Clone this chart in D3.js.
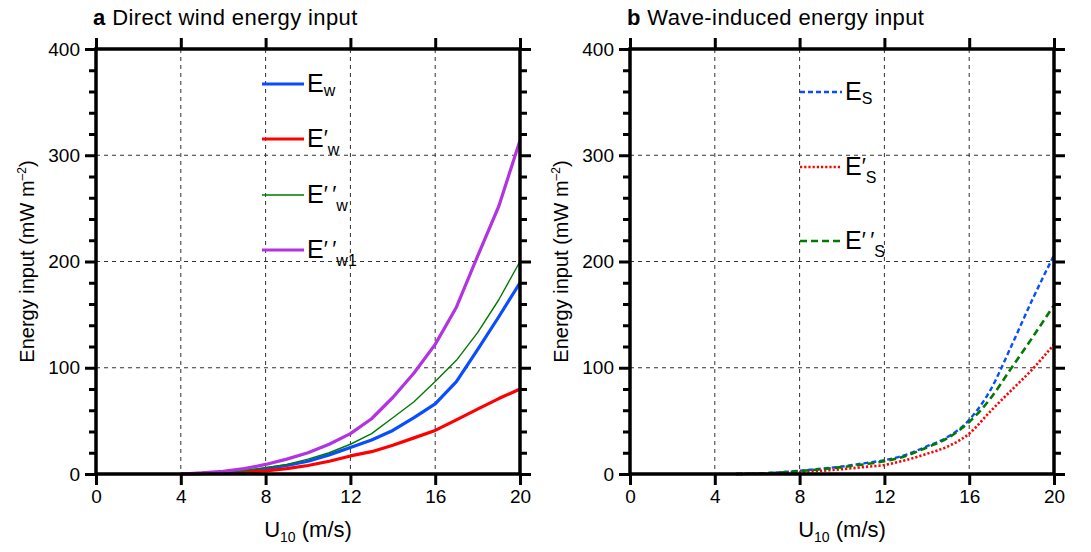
<!DOCTYPE html>
<html><head><meta charset="utf-8">
<script src="https://cdn.jsdelivr.net/npm/d3@7"></script>
<style>body{margin:0;background:#fff}svg{display:block}text{font-family:"Liberation Sans",Arial,sans-serif;fill:#000}</style>
</head><body><svg id="c" width="1091" height="552"></svg>
<script>
// ---- data ----
const windSpeeds = [4,5,6,7,8,9,10,11,12,13,14,15,16,17,18,19,20];
const Ew      = [0,0.5,1,2.5,5,8,12,18,25,32,41,53,66,87,117,148,180];
const EwP     = [0,0.3,1,2,3,5,8,12,17,21,27,34,41,51,61,71,80];
const EwPP    = [0,0.5,1.5,3,6,9,14,20,28,38,53,68,87,107,133,164,200];
const EwPP1   = [0,1,2.5,5,9,14,20,28,38,52,72,95,122,157,205,252,314];
const waveSpeeds = [5,6,7,8,9,10,11,12,13,14,15,16,17,18,19,20];
const Es      = [0,0.5,1.5,3,5,7,10,13,18,26,35,51,79,121,165,206];
const EsP     = [0,0.3,0.8,1.8,3,4.5,6.5,8.5,13,19,26,38,59,79,99,122];
const EsPP    = [0,0.5,1.3,2.8,4.5,6.5,9,12,17,25,34,49,71,100,129,159];
const xTicks = [0,4,8,12,16,20];
const yTicks = [0,100,200,300,400];
const yMinor = d3.range(0,401,20);

const svg = d3.select("#c");
const panels = [
  {x0:96, title:"Direct wind energy input", letter:"a", x:windSpeeds, curve:d3.curveLinear,
   series:[
    {v:Ew,   c:"#0a4cff", w:3.2, dash:null, sub:"w", pr:""},
    {v:EwP,  c:"#ff0000", w:3.2, dash:null, sub:"w", pr:"\u2032"},
    {v:EwPP, c:"#007a00", w:1.4, dash:null, sub:"w", pr:"\u2032\u2009\u2032"},
    {v:EwPP1,c:"#b233e0", w:3.2, dash:null, sub:"w1", pr:"\u2032\u2009\u2032"}],
   legX:262, legY:[84,139,195,250]},
  {x0:630, title:"Wave-induced energy input", letter:"b", x:waveSpeeds, curve:d3.curveMonotoneX,
   series:[
    {v:Es,   c:"#0a4cff", w:2.4, dash:"5,3", sub:"S", pr:""},
    {v:EsP,  c:"#ff0000", w:2.6, dash:"2.2,2", sub:"S", pr:"\u2032"},
    {v:EsPP, c:"#007a00", w:2.6, dash:"7,4", sub:"S", pr:"\u2032\u2009\u2032"}],
   legX:800, legY:[92,167,241]}
];
const W = 424, yTop = 49, yBot = 474;
const FF = "Liberation Sans, Arial, sans-serif";

panels.forEach(p=>{
  const x = d3.scaleLinear().domain([0,20]).range([p.x0,p.x0+W]);
  const y = d3.scaleLinear().domain([0,400]).range([yBot,yTop]);
  const g = svg.append("g");
  // grid
  xTicks.slice(1,-1).forEach(t=>g.append("line").attr("x1",x(t)).attr("x2",x(t)).attr("y1",yTop).attr("y2",yBot)
     .attr("stroke","#333").attr("stroke-width",1).attr("stroke-dasharray","4,4"));
  yTicks.slice(1,-1).forEach(t=>g.append("line").attr("x1",p.x0).attr("x2",p.x0+W).attr("y1",y(t)).attr("y2",y(t))
     .attr("stroke","#333").attr("stroke-width",1).attr("stroke-dasharray","4,4"));
  // series
  const line = d3.line().x((d,i)=>x(p.x[i])).y(d=>y(d)).curve(p.curve);
  p.series.forEach(s=>{
    g.append("path").datum(s.v).attr("d",line).attr("fill","none").attr("stroke",s.c)
      .attr("stroke-width",s.w).attr("stroke-dasharray",s.dash).attr("stroke-linejoin","round");
  });
  // axes
  const ax = (sel,axis)=>sel.call(axis).call(a=>{a.select(".domain").remove();a.selectAll("line").attr("stroke","#000").attr("stroke-width",3);});
  g.append("g").attr("transform",`translate(0,${yBot})`).call(sel=>ax(sel,d3.axisBottom(x).tickValues(xTicks).tickSize(11).tickPadding(5)))
    .selectAll("text").attr("font-size",19).attr("font-family",FF);
  g.append("g").attr("transform",`translate(0,${yTop})`).call(sel=>ax(sel,d3.axisTop(x).tickValues(xTicks).tickSize(11).tickFormat("")));
  g.append("g").attr("transform",`translate(${p.x0},0)`).call(sel=>ax(sel,d3.axisLeft(y).tickValues(yMinor.filter(v=>v%100)).tickSize(7).tickFormat("")));
  g.append("g").attr("transform",`translate(${p.x0},0)`).call(sel=>ax(sel,d3.axisLeft(y).tickValues(yTicks).tickSize(11).tickPadding(5)))
    .selectAll("text").attr("font-size",19).attr("font-family",FF);
  g.append("g").attr("transform",`translate(${p.x0+W},0)`).call(sel=>ax(sel,d3.axisRight(y).tickValues(yMinor.filter(v=>v%100)).tickSize(7).tickFormat("")));
  g.append("g").attr("transform",`translate(${p.x0+W},0)`).call(sel=>ax(sel,d3.axisRight(y).tickValues(yTicks).tickSize(11).tickFormat("")));
  g.append("rect").attr("x",p.x0).attr("y",yTop).attr("width",W).attr("height",yBot-yTop)
    .attr("fill","none").attr("stroke","#000").attr("stroke-width",3.5);
  // title
  const t = g.append("text").attr("x",p.x0-3).attr("y",25).attr("font-size",22).attr("letter-spacing",0.4);
  t.append("tspan").attr("font-weight","bold").text(p.letter);
  t.append("tspan").text(" "+p.title);
  // y label
  const yl = g.append("text").attr("transform",`translate(${p.x0-62},${(yTop+yBot)/2}) rotate(-90)`)
    .attr("text-anchor","middle").attr("font-size",20);
  yl.append("tspan").text("Energy input (mW m");
  yl.append("tspan").attr("font-size",12).attr("dy",-8).text("\u20132");
  yl.append("tspan").attr("dy",8).text(")");
  // x label
  const xl = g.append("text").attr("x",x(10)).attr("y",537).attr("text-anchor","middle").attr("font-size",22);
  xl.append("tspan").text("U");
  xl.append("tspan").attr("font-size",14).attr("dy",5).text("10");
  xl.append("tspan").attr("dy",-5).text(" (m/s)");
  // legend
  p.series.forEach((s,i)=>{
    const ly = p.legY[i];
    g.append("line").attr("x1",p.legX).attr("x2",p.legX+42).attr("y1",ly).attr("y2",ly)
      .attr("stroke",s.c).attr("stroke-width",s.w).attr("stroke-dasharray",s.dash);
    const lt = g.append("text").attr("x",p.legX+45).attr("y",ly+8).attr("font-size",25);
    lt.append("tspan").text("E");
    if(s.pr) lt.append("tspan").attr("font-size",22).attr("dy",-2).text(s.pr);
    lt.append("tspan").attr("font-size",16).attr("dy",s.pr?10:4).text(s.sub);
  });
});
</script></body></html>
